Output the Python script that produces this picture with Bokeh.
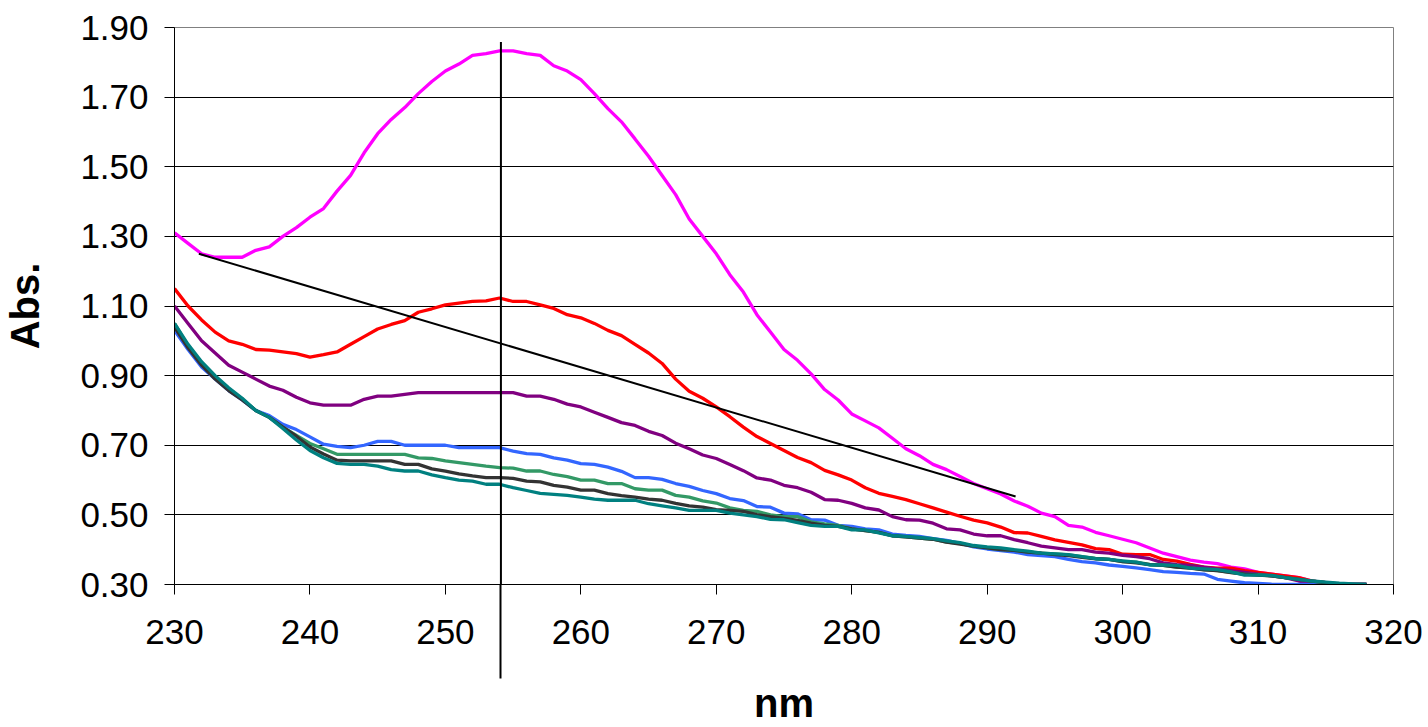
from bokeh.plotting import figure
from bokeh.models import FixedTicker, PrintfTickFormatter, Range1d
from bokeh.embed import file_html
from bokeh.resources import INLINE

# ---- data (wavelength in nm, absorbance) ----
nm = list(range(230, 319))

magenta = [1.31, 1.28, 1.25, 1.24, 1.24, 1.24, 1.26, 1.27, 1.30, 1.325,
           1.355, 1.38, 1.43, 1.475, 1.54, 1.595, 1.636, 1.67, 1.71, 1.745,
           1.775, 1.795, 1.82, 1.825, 1.833, 1.833, 1.825, 1.82, 1.79, 1.775,
           1.75, 1.71, 1.667, 1.629, 1.58, 1.53, 1.475, 1.42, 1.35, 1.30,
           1.25, 1.19, 1.14, 1.075, 1.025, 0.975, 0.944, 0.905, 0.86, 0.83,
           0.79, 0.77, 0.75, 0.72, 0.69, 0.67, 0.645, 0.63, 0.61, 0.59,
           0.575, 0.56, 0.54, 0.525, 0.505, 0.495, 0.47, 0.465, 0.45, 0.44,
           0.43, 0.42, 0.405, 0.39, 0.38, 0.37, 0.364, 0.36, 0.35, 0.345,
           0.335, 0.33, 0.325, 0.32, 0.31, 0.305, 0.30, 0.30, 0.30]

red = [1.15, 1.10, 1.06, 1.025, 1.00, 0.99, 0.975, 0.973, 0.968, 0.963,
       0.953, 0.96, 0.968, 0.99, 1.012, 1.034, 1.047, 1.058, 1.082, 1.092,
       1.103, 1.108, 1.113, 1.115, 1.123, 1.113, 1.113, 1.103, 1.093, 1.075,
       1.066, 1.05, 1.03, 1.015, 0.99, 0.965, 0.935, 0.89, 0.855, 0.835,
       0.81, 0.782, 0.752, 0.725, 0.705, 0.685, 0.665, 0.65, 0.628, 0.615,
       0.60, 0.578, 0.562, 0.553, 0.544, 0.532, 0.52, 0.508, 0.496, 0.485,
       0.477, 0.465, 0.449, 0.448, 0.438, 0.428, 0.421, 0.414, 0.403, 0.40,
       0.387, 0.386, 0.386, 0.372, 0.367, 0.358, 0.35, 0.347, 0.347, 0.34,
       0.335, 0.33, 0.325, 0.32, 0.31, 0.305, 0.30, 0.30, 0.30]

purple = [1.10, 1.05, 1.00, 0.965, 0.93, 0.91, 0.89, 0.87, 0.858, 0.838,
          0.822, 0.815, 0.815, 0.815, 0.832, 0.841, 0.841, 0.846, 0.851, 0.851,
          0.851, 0.851, 0.851, 0.851, 0.851, 0.851, 0.841, 0.841, 0.832, 0.818,
          0.81, 0.795, 0.78, 0.765, 0.757, 0.74, 0.728, 0.706, 0.69, 0.672,
          0.662, 0.645, 0.627, 0.606, 0.60, 0.585, 0.578, 0.565, 0.544, 0.542,
          0.533, 0.52, 0.514, 0.495, 0.486, 0.485, 0.476, 0.46, 0.457, 0.445,
          0.44, 0.44, 0.429, 0.42, 0.41, 0.405, 0.40, 0.40, 0.393, 0.39,
          0.384, 0.38, 0.374, 0.362, 0.357, 0.355, 0.35, 0.345, 0.34, 0.335,
          0.33, 0.325, 0.32, 0.31, 0.305, 0.30, 0.30, 0.30, 0.30]

blue = [1.03, 0.975, 0.925, 0.89, 0.857, 0.83, 0.80, 0.785, 0.76, 0.745,
        0.724, 0.703, 0.697, 0.693, 0.70, 0.711, 0.711, 0.70, 0.70, 0.70,
        0.70, 0.693, 0.693, 0.693, 0.693, 0.683, 0.676, 0.674, 0.664, 0.657,
        0.647, 0.645, 0.637, 0.625, 0.607, 0.607, 0.602, 0.59, 0.582, 0.57,
        0.561, 0.547, 0.541, 0.524, 0.522, 0.505, 0.503, 0.486, 0.485, 0.47,
        0.467, 0.46, 0.457, 0.445, 0.441, 0.438, 0.432, 0.427, 0.418, 0.408,
        0.402, 0.397, 0.393, 0.386, 0.383, 0.38, 0.372, 0.366, 0.362, 0.356,
        0.352, 0.348, 0.343, 0.337, 0.335, 0.332, 0.33, 0.315, 0.31, 0.305,
        0.303, 0.301, 0.30, 0.30, 0.30, 0.30, 0.30, 0.30, 0.30]

green = [1.05, 0.985, 0.935, 0.895, 0.86, 0.833, 0.80, 0.78, 0.752, 0.728,
         0.705, 0.69, 0.674, 0.674, 0.674, 0.674, 0.674, 0.674, 0.664, 0.662,
         0.655, 0.65, 0.645, 0.64, 0.636, 0.634, 0.626, 0.626, 0.616, 0.61,
         0.60, 0.60, 0.59, 0.59, 0.575, 0.571, 0.571, 0.556, 0.551, 0.54,
         0.534, 0.52, 0.513, 0.51, 0.50, 0.495, 0.495, 0.48, 0.474, 0.47,
         0.46, 0.455, 0.45, 0.44, 0.437, 0.433, 0.43, 0.422, 0.418, 0.41,
         0.405, 0.40, 0.398, 0.393, 0.39, 0.388, 0.385, 0.38, 0.375, 0.372,
         0.366, 0.364, 0.358, 0.355, 0.35, 0.348, 0.343, 0.34, 0.335, 0.33,
         0.328, 0.325, 0.32, 0.315, 0.31, 0.305, 0.30, 0.30, 0.30]

gray = [1.04, 0.98, 0.93, 0.89, 0.857, 0.83, 0.80, 0.78, 0.752, 0.726,
        0.695, 0.675, 0.657, 0.655, 0.655, 0.655, 0.655, 0.645, 0.645, 0.632,
        0.626, 0.618, 0.612, 0.607, 0.607, 0.605, 0.597, 0.595, 0.585, 0.58,
        0.571, 0.571, 0.561, 0.555, 0.551, 0.545, 0.542, 0.533, 0.526, 0.522,
        0.515, 0.513, 0.51, 0.501, 0.495, 0.49, 0.484, 0.476, 0.47, 0.467,
        0.46, 0.455, 0.45, 0.44, 0.437, 0.433, 0.43, 0.422, 0.416, 0.41,
        0.405, 0.40, 0.398, 0.393, 0.39, 0.386, 0.383, 0.378, 0.374, 0.372,
        0.366, 0.362, 0.357, 0.355, 0.35, 0.347, 0.342, 0.34, 0.334, 0.33,
        0.327, 0.325, 0.32, 0.315, 0.31, 0.305, 0.302, 0.30, 0.30]

teal = [1.05, 0.99, 0.94, 0.90, 0.865, 0.835, 0.80, 0.78, 0.748, 0.715,
        0.685, 0.664, 0.648, 0.645, 0.645, 0.64, 0.63, 0.626, 0.626, 0.615,
        0.607, 0.60, 0.597, 0.588, 0.588, 0.578, 0.57, 0.562, 0.559, 0.556,
        0.551, 0.545, 0.542, 0.542, 0.542, 0.532, 0.526, 0.52, 0.513, 0.513,
        0.513, 0.505, 0.50, 0.495, 0.487, 0.486, 0.478, 0.47, 0.467, 0.467,
        0.457, 0.457, 0.448, 0.44, 0.438, 0.435, 0.432, 0.425, 0.42, 0.412,
        0.408, 0.405, 0.40, 0.396, 0.39, 0.388, 0.386, 0.38, 0.374, 0.372,
        0.368, 0.364, 0.356, 0.356, 0.355, 0.347, 0.345, 0.343, 0.336, 0.327,
        0.327, 0.326, 0.32, 0.315, 0.31, 0.307, 0.304, 0.302, 0.30]

series = [magenta, red, purple, blue, green, gray, teal]
colors = ["#FF00FF", "#FF0000", "#800080", "#3366FF", "#339966", "#333333", "#008080"]

# straight reference line and vertical marker
diag_x = [231.8, 292.1]
diag_y = [1.25, 0.553]
marker_nm = 254.1
marker_y = [1.858, 0.30]

x_ticks = [230, 240, 250, 260, 270, 280, 290, 300, 310, 320]
y_ticks = [0.30, 0.50, 0.70, 0.90, 1.10, 1.30, 1.50, 1.70, 1.90]

FONT = "Liberation Sans"

p = figure(width=1428, height=727, output_backend="svg", toolbar_location=None,
           x_range=Range1d(230, 320), y_range=Range1d(0.30, 1.90),
           min_border_left=173, min_border_right=35, min_border_top=27,
           min_border_bottom=143)
p.background_fill_color = "white"
p.border_fill_color = "white"
p.outline_line_color = "#808080"
p.outline_line_width = 1

for ys, c in zip(series, colors):
    p.line(nm, ys, line_color=c, line_width=3.3)

p.line(diag_x, diag_y, line_color="black", line_width=2)
p.line([marker_nm, marker_nm], marker_y, line_color="black", line_width=2)

p.xgrid.visible = False
p.ygrid.ticker = FixedTicker(ticks=y_ticks)
p.ygrid.grid_line_color = "black"
p.ygrid.grid_line_width = 1

for ax in (p.xaxis[0], p.yaxis[0]):
    ax.axis_line_color = "black"
    ax.axis_line_width = 1
    ax.major_tick_line_color = "black"
    ax.major_tick_out = 10
    ax.major_tick_in = 0
    ax.minor_tick_out = 0
    ax.minor_tick_in = 0
    ax.major_label_text_font = FONT
    ax.major_label_text_font_size = "35px"
    ax.major_label_text_color = "black"
    ax.axis_label_text_font = FONT
    ax.axis_label_text_font_size = "40px"
    ax.axis_label_text_font_style = "bold"
    ax.axis_label_text_color = "black"

# the vertical marker continues below the axis: drawn as the single minor tick
p.xaxis.ticker = FixedTicker(ticks=x_ticks, minor_ticks=[marker_nm])
p.xaxis.minor_tick_out = 94
p.xaxis.minor_tick_line_width = 2
p.xaxis.minor_tick_line_color = "black"

p.yaxis.ticker = FixedTicker(ticks=y_ticks)
p.yaxis.formatter = PrintfTickFormatter(format="%.2f")
p.xaxis.axis_label = "nm"
p.yaxis.axis_label = "Abs."
# the long minor tick enlarges the tick extent; pull the labels back up
p.xaxis.major_label_standoff = -59
p.yaxis.major_label_standoff = 16
p.xaxis.axis_label_standoff = 34
p.yaxis.axis_label_standoff = 30

open("out.html", "w").write(file_html(p, INLINE))
